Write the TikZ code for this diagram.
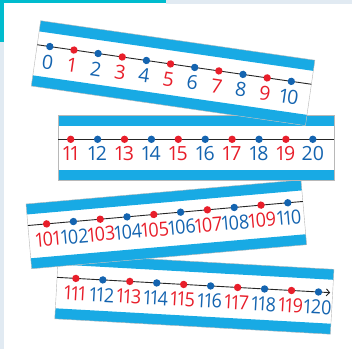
\documentclass[tikz,border=0pt]{standalone}
\usepackage{fontspec}
\setmainfont{Open Sans}[Numbers=Proportional]
\usetikzlibrary{arrows.meta}
\definecolor{stripblue}{RGB}{24,170,228}
\definecolor{numred}{RGB}{232,30,42}
\definecolor{numblue}{RGB}{20,100,176}
\definecolor{tealbar}{RGB}{0,188,206}
\definecolor{bggrey}{RGB}{225,234,242}
\tikzset{
  band/.style={fill=stripblue},
  edgeline/.style={draw=black!28, line width=0.4pt},
  numline/.style={draw=black!85, line width=0.9pt},
  numdot/.style={circle, inner sep=0pt, minimum size=7.4pt},
  numtext/.style={inner sep=0pt, font=\fontsize{19.5}{19.5}\selectfont},
  wide/.style={xscale=0.92},
}
\begin{document}
\begin{tikzpicture}[x=1pt,y=1pt]
\useasboundingbox (0,0) rectangle (352,349);
\fill[white] (0,0) rectangle (352,349);
\fill[bggrey] (0,0) rectangle (4,349);
\fill[bggrey] (166,345) rectangle (352,349);
\fill[tealbar] (0,346.3) rectangle (166,349);
\fill[tealbar] (0,307) rectangle (4,349);

% strip 4 : 111 - 120
\begin{scope}[shift={(58.4,95.1)}, rotate=-3.2, transform shape]
  \fill[white] (0,0) rectangle (276,-65);
  \fill[band] (0,0) rectangle (276,-10.5);
  \fill[band] (0,-54.5) rectangle (276,-65);
  \draw[edgeline] (0,0) rectangle (276,-65);
  \coordinate (s4a) at (0,-23.5);
  \coordinate (s4b) at (273.5,-23.5);
  \draw[numline, -{Straight Barb[length=3.2pt,width=7pt]}] (s4a) -- (s4b);
  \foreach \n [count=\i from 0] in {111,...,120}{
    \ifodd\n\relax \def\col{numred}\else \def\col{numblue}\fi
    \node[numdot, fill=\col] (d4-\n) at (18.8+\i*27,-23.5) {};
    \node[numtext, wide, text=\col] (t4-\n) at (18.8+\i*27,-38.5) {\n};
  }
\end{scope}

% strip 3 : 101 - 110
\begin{scope}[shift={(26,145)}, rotate=5, transform shape]
  \fill[white] (0,0) rectangle (276,-65);
  \fill[band] (0,0) rectangle (276,-10.5);
  \fill[band] (0,-54.5) rectangle (276,-65);
  \draw[edgeline] (0,0) rectangle (276,-65);
  \coordinate (s3a) at (0,-21.6);
  \coordinate (s3b) at (276,-21.6);
  \draw[numline] (s3a) -- (s3b);
  \foreach \n [count=\i from 0] in {101,...,110}{
    \ifodd\n\relax \def\col{numred}\else \def\col{numblue}\fi
    \node[numdot, fill=\col] (d3-\n) at (18.8+\i*26.9,-21.6) {};
    \node[numtext, wide, text=\col] (t3-\n) at (18.8+\i*26.9,-36.8) {\n};
  }
\end{scope}

% strip 2 : 11 - 20
\begin{scope}[shift={(58.3,234)}, transform shape]
  \fill[white] (0,0) rectangle (276,-65);
  \fill[band] (0,0) rectangle (276,-10.5);
  \fill[band] (0,-54.5) rectangle (276,-65);
  \draw[edgeline] (0,0) rectangle (276,-65);
  \coordinate (s2a) at (0,-24.3);
  \coordinate (s2b) at (276,-24.3);
  \draw[numline] (s2a) -- (s2b);
  \foreach \n [count=\i from 0] in {11,...,20}{
    \ifodd\n\relax \def\col{numred}\else \def\col{numblue}\fi
    \node[numdot, fill=\col] (d2-\n) at (12.4+\i*26.9,-24.3) {};
    \node[numtext, text=\col] (t2-\n) at (12.4+\i*26.9,-38.8) {\n};
  }
\end{scope}

% strip 1 : 0 - 10
\begin{scope}[shift={(40.7,328.3)}, rotate=-8.2, transform shape]
  \fill[white] (0,0) rectangle (277,-66);
  \fill[band] (0,0) rectangle (277,-10.8);
  \fill[band] (0,-55.2) rectangle (277,-66);
  \draw[edgeline] (0,0) rectangle (277,-66);
  \coordinate (s1a) at (0,-24.3);
  \coordinate (s1b) at (277,-24.3);
  \draw[numline] (s1a) -- (s1b);
  \foreach \n [count=\i from 0] in {0,...,10}{
    \ifodd\n\relax \def\col{numred}\else \def\col{numblue}\fi
    \node[numdot, fill=\col] (d1-\n) at (12.7+\i*24.4,-24.3) {};
    \node[numtext, text=\col] (t1-\n) at (12.7+\i*24.4,-39.8) {\n};
  }
\end{scope}
\end{tikzpicture}
\end{document}
